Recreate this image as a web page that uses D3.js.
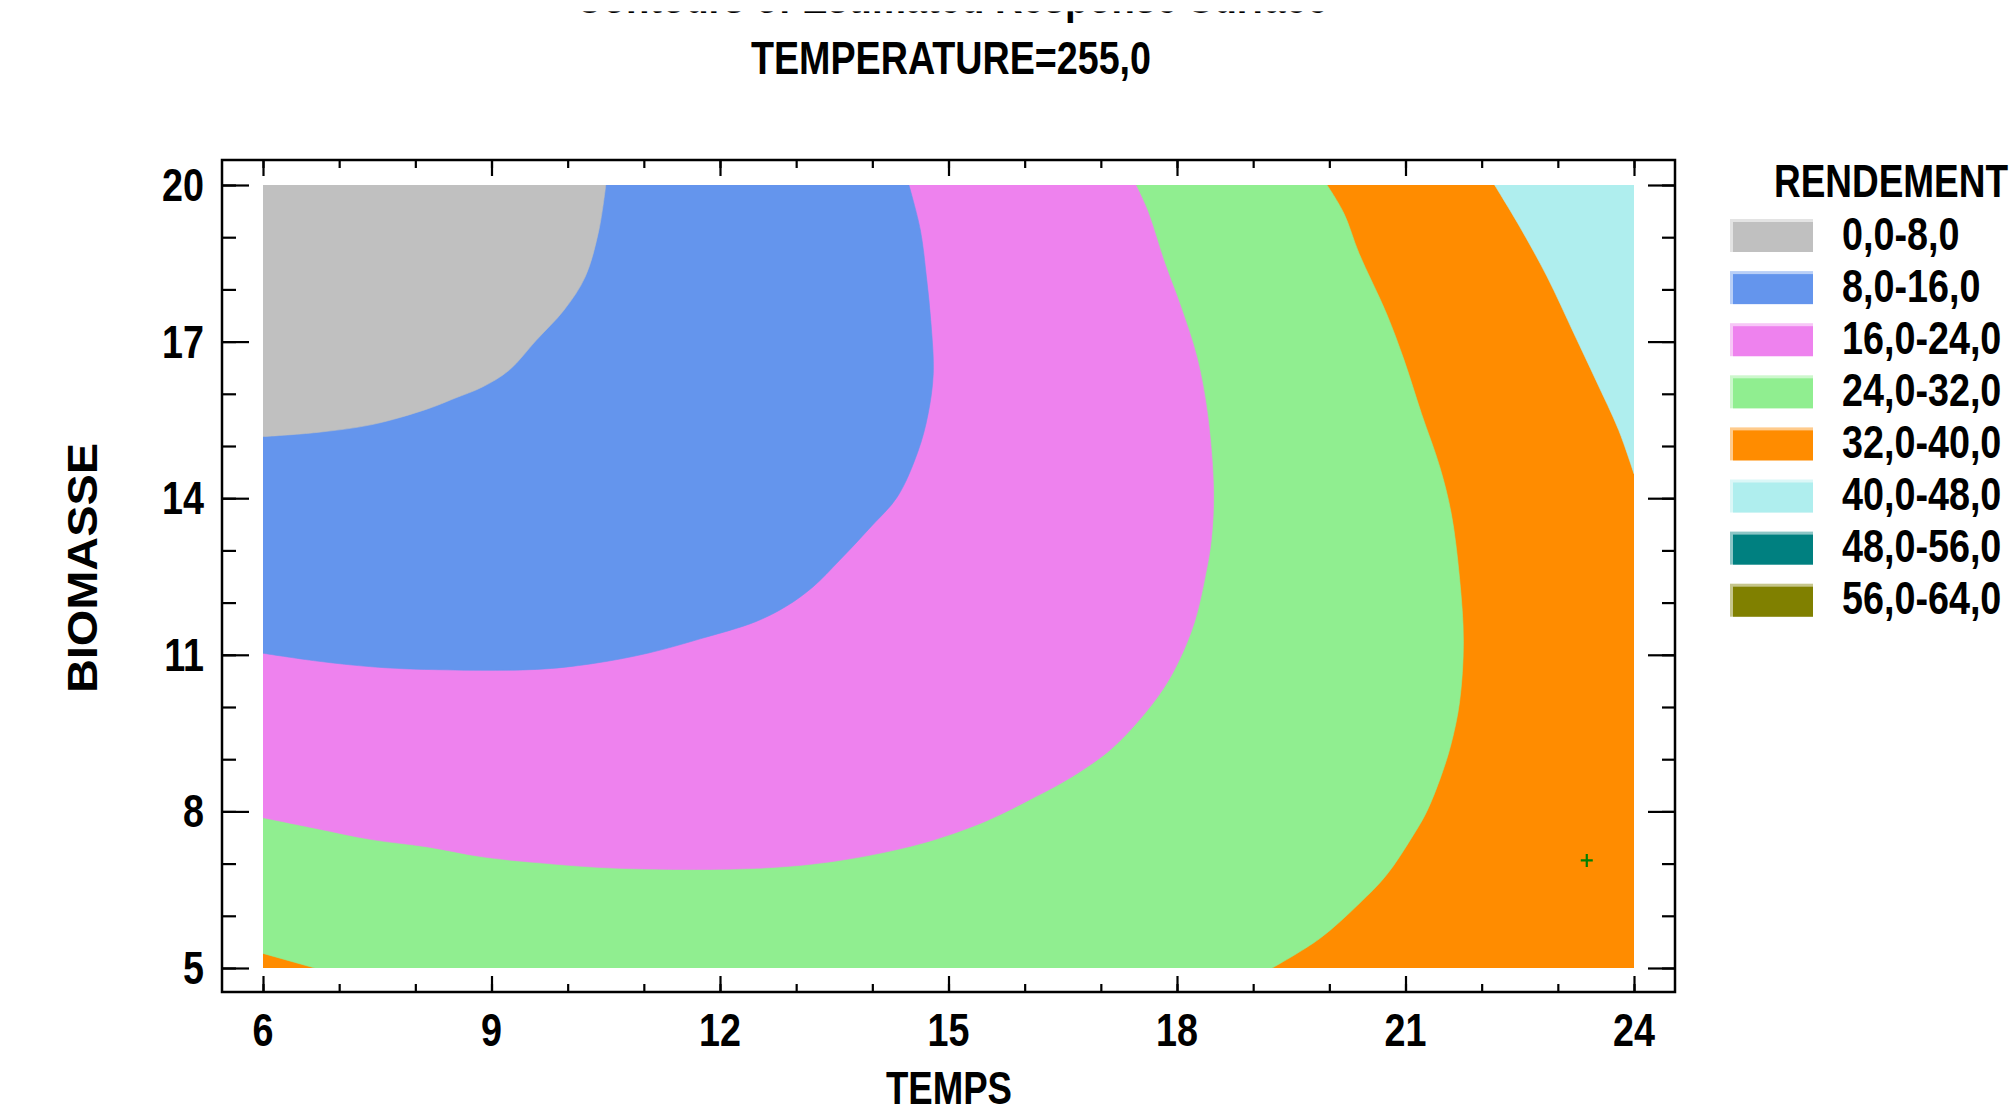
<!DOCTYPE html>
<html>
<head>
<meta charset="utf-8">
<script src="https://cdn.jsdelivr.net/npm/d3@7/dist/d3.min.js"></script>
<style>
  html, body { margin: 0; padding: 0; background: #ffffff; }
  svg { display: block; }
  text { font-family: "Liberation Sans", Arial, sans-serif; font-weight: bold; fill: #000; }
</style>
</head>
<body>
<svg id="chart" width="2013" height="1113"></svg>
<script>
// Axis ticks
const tempsTicks = [6, 9, 12, 15, 18, 21, 24];
const biomasseTicks = [5, 8, 11, 14, 17, 20];
const tempsMinor = d3.range(6, 25, 1);
const biomasseMinor = d3.range(5, 21, 1);

// RENDEMENT bands
const bandLabels = ["0,0-8,0", "8,0-16,0", "16,0-24,0", "24,0-32,0",
                    "32,0-40,0", "40,0-48,0", "48,0-56,0", "56,0-64,0"];
const bandColors = ["#c0c0c0", "#6495ed", "#ee82ee", "#90ee90",
                    "#ff8c00", "#afeeee", "#008080", "#808000"];

// Iso-lines of the fitted surface, as [TEMPS, BIOMASSE] pairs
const iso8 = [[6, 15.18], [6.71, 15.26], [7.43, 15.41], [8.16, 15.71], [8.51, 15.91],
              [8.88, 16.13], [9.23, 16.45], [9.59, 17.03], [9.95, 17.6], [10.23, 18.24],
              [10.41, 19.14], [10.5, 20]];
const iso16 = [[6, 11.03], [6.71, 10.88], [7.43, 10.77], [8.12, 10.72], [9.59, 10.72],
               [10.32, 10.83], [11.05, 11.03], [11.75, 11.31], [12.46, 11.63], [12.87, 11.93],
               [13.22, 12.3], [13.57, 12.81], [13.98, 13.45], [14.33, 14.03], [14.6, 14.9],
               [14.73, 15.6], [14.8, 16.39], [14.77, 17.35], [14.71, 18.24], [14.63, 19.14],
               [14.48, 20]];
const iso24 = [[6, 7.88], [6.71, 7.67], [7.43, 7.46], [8.16, 7.32], [8.88, 7.13],
               [9.59, 7.02], [10.67, 6.91], [12.49, 6.91], [13.57, 7.06], [14.63, 7.38],
               [15.35, 7.73], [15.71, 7.96], [16.06, 8.22], [16.43, 8.5], [16.79, 8.82],
               [17.14, 9.2], [17.51, 9.76], [17.82, 10.35], [18.03, 10.9], [18.23, 11.63],
               [18.37, 12.5], [18.45, 13.2], [18.48, 14.16], [18.4, 15.62], [18.26, 16.71],
               [18.05, 17.67], [17.84, 18.5], [17.61, 19.52], [17.46, 20]];
const iso32 = [[19.25, 5], [19.87, 5.56], [20.39, 6.23], [20.75, 6.78], [21.1, 7.54],
               [21.28, 8.0], [21.47, 8.69], [21.6, 9.3], [21.71, 10.1], [21.76, 11.25],
               [21.71, 12.46], [21.6, 13.71], [21.45, 14.6], [21.21, 15.62], [20.98, 16.65],
               [20.75, 17.54], [20.39, 18.69], [20.19, 19.46], [19.97, 20]];
const iso32Corner = [[6, 5.28], [6.68, 5]];
const iso40 = [[22.17, 20], [22.5, 19.2], [22.86, 18.24], [23.21, 17.16], [23.5, 16.26],
               [23.8, 15.3], [24, 14.47]];

// Observed point
const points = [[23.38, 7.06]];

const svg = d3.select("#chart");
svg.append("rect").attr("width", 2013).attr("height", 1113).attr("fill", "#fff");

const frame = { left: 222, right: 1675, top: 160, bottom: 992 };
const x = d3.scaleLinear().domain([6, 24]).range([263, 1634]);
const y = d3.scaleLinear().domain([5, 20]).range([968, 185]);

svg.append("defs").append("clipPath").attr("id", "plotClip")
  .append("rect")
  .attr("x", x(6)).attr("y", y(20))
  .attr("width", x(24) - x(6)).attr("height", y(5) - y(20));

const plot = svg.append("g").attr("clip-path", "url(#plotClip)");

const curve = d3.line().x(d => x(d[0])).y(d => y(d[1])).curve(d3.curveCatmullRom.alpha(0.5));
const pt = (t, b) => `${x(t)},${y(b)}`;
const cont = pts => curve(pts).replace(/^M/, "L");

// Nested regions, painted from the highest band downward
const regions = [
  { band: 4, d: `M${pt(6, 5)}L${pt(24, 5)}L${pt(24, 20)}L${pt(6, 20)}Z` },
  { band: 3, d: `M${pt(iso32Corner[0][0], iso32Corner[0][1])}L${pt(iso32Corner[1][0], iso32Corner[1][1])}` +
                cont(iso32) + `L${pt(6, 20)}Z` },
  { band: 2, d: curve(iso24) + `L${pt(6, 20)}Z` },
  { band: 1, d: curve(iso16) + `L${pt(6, 20)}Z` },
  { band: 0, d: curve(iso8) + `L${pt(6, 20)}Z` },
  { band: 5, d: curve(iso40) + `L${pt(24, 20)}Z` }
];

plot.selectAll("path.band").data(regions).join("path")
  .attr("class", "band")
  .attr("d", r => r.d)
  .attr("fill", r => bandColors[r.band])
  .attr("stroke", r => bandColors[r.band])
  .attr("stroke-width", 0.6);

// Observed point marker
const mk = svg.append("g");
points.forEach(p => {
  mk.append("path")
    .attr("d", `M${x(p[0]) - 6},${y(p[1])}h12M${x(p[0])},${y(p[1]) - 6.5}v13`)
    .attr("stroke", "#008000").attr("stroke-width", 2.2).attr("fill", "none");
});

// Frame and inward ticks
svg.append("rect")
  .attr("x", frame.left).attr("y", frame.top)
  .attr("width", frame.right - frame.left).attr("height", frame.bottom - frame.top)
  .attr("fill", "none").attr("stroke", "#000").attr("stroke-width", 2.5);

function ticks(axis, transform) {
  const g = svg.append("g").attr("transform", transform).call(axis);
  g.select(".domain").remove();
  g.selectAll("text").remove();
  g.selectAll("line").attr("stroke", "#000").attr("stroke-width", 2.2);
}
ticks(d3.axisTop(x).tickValues(tempsMinor).tickSize(8), `translate(0,${frame.bottom})`);
ticks(d3.axisTop(x).tickValues(tempsTicks).tickSize(16), `translate(0,${frame.bottom})`);
ticks(d3.axisBottom(x).tickValues(tempsMinor).tickSize(8), `translate(0,${frame.top})`);
ticks(d3.axisBottom(x).tickValues(tempsTicks).tickSize(16), `translate(0,${frame.top})`);
ticks(d3.axisRight(y).tickValues(biomasseMinor).tickSize(14), `translate(${frame.left},0)`);
ticks(d3.axisRight(y).tickValues(biomasseTicks).tickSize(27), `translate(${frame.left},0)`);
ticks(d3.axisLeft(y).tickValues(biomasseMinor).tickSize(13), `translate(${frame.right},0)`);
ticks(d3.axisLeft(y).tickValues(biomasseTicks).tickSize(27), `translate(${frame.right},0)`);

// Condensed bold text helper
function label(str, tx, ty, opt = {}) {
  const size = opt.size || 46, sx = opt.sx || 0.82, rot = opt.rotate || 0;
  const t = svg.append("text")
    .attr("transform", `translate(${tx},${ty}) rotate(${rot}) scale(${sx},1)`)
    .attr("text-anchor", opt.anchor || "middle")
    .attr("font-size", size)
    .text(str);
  if (opt.width) t.attr("textLength", opt.width / sx).attr("lengthAdjust", "spacingAndGlyphs");
  return t;
}

tempsTicks.forEach(v => label(String(v), x(v), 1046));
biomasseTicks.forEach(v => label(String(v), 204, y(v) + 16, { anchor: "end" }));

// Heading: the first line sits mostly above the top edge, only its foot shows
label("Contours of Estimated Response Surface", 951.5, 13, { width: 753 });
svg.append("rect").attr("x", 500).attr("y", 0).attr("width", 900).attr("height", 11.3).attr("fill", "#fff");
label("TEMPERATURE=255,0", 951, 74, { width: 400 });
label("TEMPS", 949, 1104, { width: 126 });
label("BIOMASSE", 97, 568, { rotate: -90, sx: 1, size: 42, width: 250 });

// Legend
label("RENDEMENT", 1774, 197, { anchor: "start", width: 234 });
const legend = svg.append("g");
bandLabels.forEach((lab, i) => {
  const top = 222 + i * 52.1;
  const c = d3.color(bandColors[i]);
  const light = d3.interpolateRgb(c, "#ffffff")(0.55);
  legend.append("rect").attr("x", 1730).attr("y", top - 3).attr("width", 83).attr("height", 33).attr("fill", light);
  legend.append("rect").attr("x", 1733).attr("y", top).attr("width", 80).attr("height", 30).attr("fill", bandColors[i]);
  label(lab, 1842, top + 27.5, { anchor: "start" });
});
</script>
</body>
</html>
